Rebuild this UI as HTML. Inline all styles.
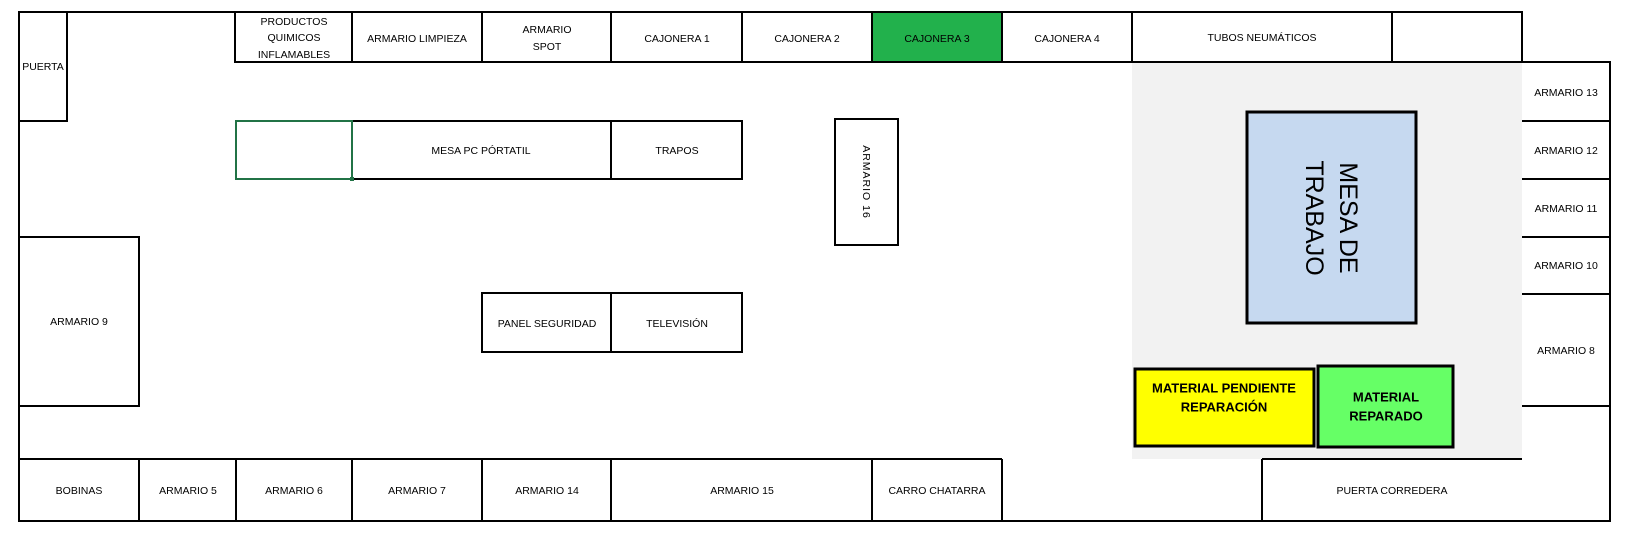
<!DOCTYPE html>
<html><head><meta charset="utf-8"><style>
html,body{margin:0;padding:0;background:#fff;}
svg{display:block;}
text{font-family:"Liberation Sans",sans-serif;font-size:10.5px;fill:#000;text-anchor:middle;dominant-baseline:central;}
.b{stroke:#000;stroke-width:2;fill:none;}
</style></head><body>
<svg width="1630" height="540" viewBox="0 0 1630 540" xmlns="http://www.w3.org/2000/svg">
<rect x="1132" y="62" width="390" height="397" fill="#f2f2f2"/>
<rect x="872" y="12" width="130" height="50" fill="#22b14c"/>
<rect x="1247" y="112" width="169" height="211" fill="#c6d9f0"/>
<rect x="1135" y="369" width="179" height="77" fill="#ffff00"/>
<rect x="1318" y="366" width="135" height="81" fill="#66ff66"/>
<g class="b">
<path d="M19 12 H1522 V62 H1610 V521 H19 Z"/>
<rect x="19" y="12" width="48" height="109"/>
<path d="M235 12 V62 H1522"/>
<path d="M352 12 V62 M482 12 V62 M611 12 V62 M742 12 V62 M872 12 V62 M1002 12 V62 M1132 12 V62 M1392 12 V62"/>
<path d="M1522 121 H1610 M1522 179 H1610 M1522 237 H1610 M1522 294 H1610 M1522 406 H1610"/>
<rect x="352" y="121" width="390" height="58"/>
<path d="M611 121 V179"/>
<rect x="482" y="293" width="260" height="59"/>
<path d="M611 293 V352"/>
<rect x="835" y="119" width="63" height="126"/>
<rect x="19" y="237" width="120" height="169"/>
<path d="M19 459 H1002 M1262 459 H1522"/>
<path d="M139 459 V521 M236 459 V521 M352 459 V521 M482 459 V521 M611 459 V521 M872 459 V521 M1002 459 V521 M1262 459 V521"/>
<rect x="1247" y="112" width="169" height="211" stroke-width="3"/>
<rect x="1135" y="369" width="179" height="77" stroke-width="3"/>
<rect x="1318" y="366" width="135" height="81" stroke-width="3"/>
</g>
<rect x="236" y="121" width="116" height="58" fill="none" stroke="#217346" stroke-width="2"/>
<rect x="350" y="177" width="4" height="4" fill="#217346"/>
<text x="43" y="67">PUERTA</text>
<text x="294" y="22">PRODUCTOS</text><text x="294" y="38">QUIMICOS</text><text x="294" y="55">INFLAMABLES</text>
<text x="417" y="39">ARMARIO LIMPIEZA</text>
<text x="547" y="30">ARMARIO</text><text x="547" y="47">SPOT</text>
<text x="677" y="39">CAJONERA 1</text>
<text x="807" y="39">CAJONERA 2</text>
<text x="937" y="39">CAJONERA 3</text>
<text x="1067" y="39">CAJONERA 4</text>
<text x="1262" y="38">TUBOS NEUMÁTICOS</text>
<text x="1566" y="93">ARMARIO 13</text>
<text x="1566" y="151">ARMARIO 12</text>
<text x="1566" y="209">ARMARIO 11</text>
<text x="1566" y="266">ARMARIO 10</text>
<text x="1566" y="351">ARMARIO 8</text>
<text x="481" y="151">MESA PC PÓRTATIL</text>
<text x="677" y="151">TRAPOS</text>
<text x="547" y="324">PANEL SEGURIDAD</text>
<text x="677" y="324">TELEVISIÓN</text>
<text x="79" y="322">ARMARIO 9</text>
<text transform="translate(866 182) rotate(90)" style="letter-spacing:1px">ARMARIO 16</text>
<g transform="translate(1331 218) rotate(90)"><text x="0" y="-17" style="font-size:25px">MESA DE</text><text x="0" y="17" style="font-size:25px">TRABAJO</text></g>
<text x="1224" y="388" style="font-weight:bold;font-size:13px">MATERIAL PENDIENTE</text>
<text x="1224" y="407" style="font-weight:bold;font-size:13px">REPARACIÓN</text>
<text x="1386" y="397" style="font-weight:bold;font-size:13px">MATERIAL</text>
<text x="1386" y="416" style="font-weight:bold;font-size:13px">REPARADO</text>
<text x="79" y="491">BOBINAS</text>
<text x="188" y="491">ARMARIO 5</text>
<text x="294" y="491">ARMARIO 6</text>
<text x="417" y="491">ARMARIO 7</text>
<text x="547" y="491">ARMARIO 14</text>
<text x="742" y="491">ARMARIO 15</text>
<text x="937" y="491">CARRO CHATARRA</text>
<text x="1392" y="491">PUERTA CORREDERA</text>
</svg>
</body></html>
